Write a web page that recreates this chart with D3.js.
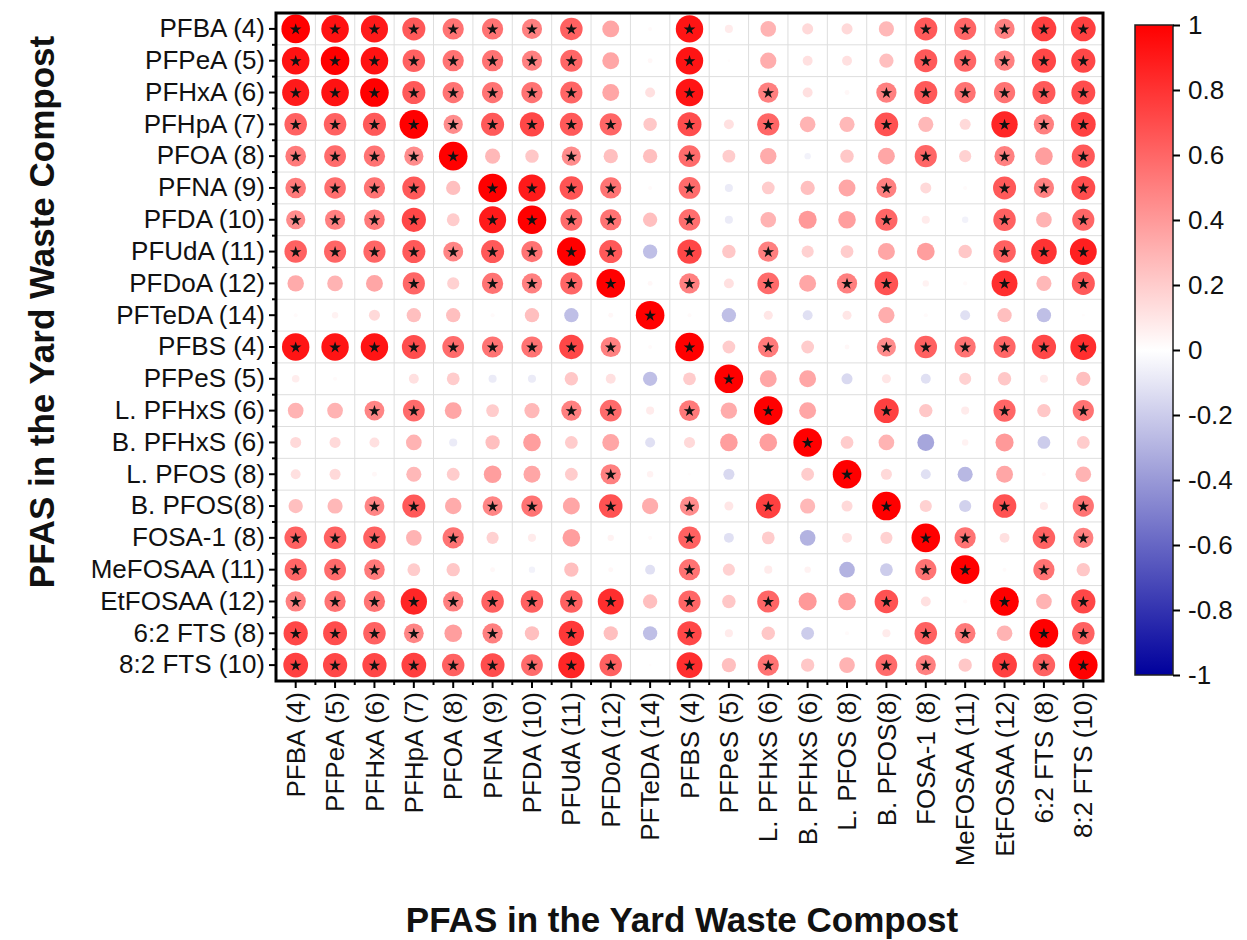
<!DOCTYPE html>
<html>
<head>
<meta charset="utf-8">
<script src="https://cdn.jsdelivr.net/npm/d3@7"></script>
<style>
  html, body { margin: 0; padding: 0; background: #fff; }
  svg { display: block; }
  text { font-family: "Liberation Sans", Arial, sans-serif; }
</style>
</head>
<body>
<svg id="chart" width="1247" height="940"></svg>
<script>
// ---------------- DATA ----------------
const labels = ["PFBA (4)", "PFPeA (5)", "PFHxA (6)", "PFHpA (7)", "PFOA (8)", "PFNA (9)",
  "PFDA (10)", "PFUdA (11)", "PFDoA (12)", "PFTeDA (14)", "PFBS (4)", "PFPeS (5)",
  "L. PFHxS (6)", "B. PFHxS (6)", "L. PFOS (8)", "B. PFOS(8)", "FOSA-1 (8)",
  "MeFOSAA (11)", "EtFOSAA (12)", "6:2 FTS (8)", "8:2 FTS (10)"];

// correlation coefficients, one row per compound (row order = labels)
const corr = [
  [1, .93, .9, .65, .55, .55, .5, .62, .35, .02, .92, .08, .3, .15, .15, .28, .65, .6, .5, .75, .75],
  [.93, 1, .93, .62, .55, .55, .5, .6, .35, .03, .92, .01, .32, .12, .12, .25, .65, .6, .5, .72, .72],
  [.9, .93, 1, .65, .55, .55, .55, .6, .35, .12, .92, 0, .5, .12, .03, .5, .65, .55, .55, .65, .7],
  [.62, .62, .65, 1, .45, .65, .72, .65, .6, .22, .7, .12, .6, .3, .28, .68, .28, .15, .85, .5, .75],
  [.52, .58, .55, .45, 1, .28, .22, .45, .25, .25, .58, .2, .33, -.05, .22, .35, .6, .18, .5, .38, .65],
  [.52, .57, .55, .65, .25, 1, .9, .67, .55, .02, .58, -.08, .2, .25, .35, .5, .15, .02, .65, .5, .7],
  [.45, .5, .52, .72, .2, .9, 1, .58, .55, .25, .57, -.08, .3, .4, .38, .6, .08, -.05, .62, .3, .6],
  [.62, .6, .6, .65, .48, .65, .55, 1, .65, -.25, .72, .22, .5, .18, .2, .35, .38, .22, .62, .8, .88],
  [.33, .3, .35, .6, .18, .55, .5, .6, 1, .03, .5, .12, .58, .35, .5, .68, .05, .02, .82, .28, .65],
  [.02, .05, .15, .25, .25, .02, .25, -.25, .03, 1, .02, -.25, .1, -.12, .1, .32, .02, -.12, .25, -.25, .01],
  [.92, .92, .92, .7, .58, .55, .55, .72, .5, .02, 1, .2, .52, .2, .03, .45, .62, .55, .6, .72, .82],
  [.07, .02, 0, .12, .2, -.08, -.08, .22, .12, -.25, .2, 1, .35, .35, -.15, .1, -.12, .18, .22, .08, .25],
  [.3, .3, .48, .58, .35, .2, .28, .5, .58, .08, .52, .33, 1, .35, 0, .75, .22, .08, .6, .22, .55],
  [.15, .15, .12, .3, -.08, .25, .38, .2, .35, -.12, .15, .38, .38, 1, .2, .3, -.35, .05, .4, -.2, .2],
  [.12, .15, .03, .28, .2, .38, .35, .2, .5, .05, .01, -.15, 0, .2, 1, .15, -.12, -.28, .35, .02, .3],
  [.25, .28, .48, .65, .33, .48, .55, .35, .68, .32, .45, .1, .75, .28, .15, 1, .18, -.18, .68, .08, .55],
  [.62, .62, .62, .3, .55, .18, .08, .38, .05, .02, .62, -.12, .2, -.3, .12, .18, 1, .55, .12, .62, .5],
  [.6, .58, .52, .2, .22, .03, -.05, .25, .03, -.12, .55, .18, .08, .05, -.3, -.2, .55, 1, .02, .55, .22],
  [.5, .55, .55, .85, .5, .62, .62, .62, .82, .25, .6, .22, .6, .4, .38, .68, .12, .02, 1, .3, .72],
  [.72, .7, .62, .48, .38, .5, .25, .78, .25, -.25, .72, .08, .22, -.2, .02, .08, .62, .52, .3, 1, .62],
  [.75, .72, .72, .75, .62, .7, .58, .85, .62, .01, .82, .25, .55, .22, .3, .58, .5, .22, .75, .62, 1]
];

// significance marks ("*" = significant) per row
const signif = [
  "********..*.....*****",
  "********..*.....*****",
  "********..*.*..******",
  "*********.*.*..*..***",
  "*****..*..*.....*.*.*",
  "****.****.*....*..***",
  "****.****.*....*..*.*",
  "*********.*.*.....***",
  "...*.****.*.*.**..*.*",
  ".........*...........",
  "*********.*.*..******",
  "...........*.........",
  "..**...**.*.*..*..*.*",
  ".............*.......",
  "........*.....*......",
  "..**.**.*.*.*..*..*.*",
  "***.*.....*.....**.**",
  "***.......*.....**.*.",
  "*********.*.*..*..*.*",
  "****.*.*..*.....**.**",
  "*********.*.*..**.***"
];

const colorbarTicks = [-1, -0.8, -0.6, -0.4, -0.2, 0, 0.2, 0.4, 0.6, 0.8, 1];
const xTitle = "PFAS in the Yard Waste Compost";
const yTitle = "PFAS in the Yard Waste Compost";

// ---------------- DRAWING ----------------
const svg = d3.select("#chart");
const L = 276, R = 1103, T = 13, B = 681;
const FONT = 26;

const x = d3.scaleBand().domain(labels).range([L, R]);
const y = d3.scaleBand().domain(labels).range([T, B]);
const color = d3.scaleLinear().domain([-1, 0, 1]).range(["#00009c", "#ffffff", "#ff0000"]);
const rMax = 14.3;
const rad = d3.scaleSqrt().domain([0, 1]).range([0, rMax]);

// grid
const grid = svg.append("g").attr("stroke", "#dedede").attr("stroke-width", 1);
labels.forEach((d, i) => {
  if (i === 0) return;
  grid.append("line").attr("x1", x(d)).attr("x2", x(d)).attr("y1", T).attr("y2", B);
  grid.append("line").attr("y1", y(d)).attr("y2", y(d)).attr("x1", L).attr("x2", R);
});

// cells
const cells = [];
corr.forEach((row, i) => row.forEach((v, j) => cells.push({ r: labels[i], c: labels[j], v, s: signif[i][j] === "*" })));

svg.append("g").selectAll("circle").data(cells).join("circle")
  .attr("cx", d => x(d.c) + x.bandwidth() / 2)
  .attr("cy", d => y(d.r) + y.bandwidth() / 2)
  .attr("r", d => rad(Math.abs(d.v)))
  .attr("fill", d => color(d.v));

const star = d3.symbol().type(d3.symbolStar).size(42);
svg.append("g").selectAll("path").data(cells.filter(d => d.s)).join("path")
  .attr("d", star)
  .attr("transform", d => `translate(${x(d.c) + x.bandwidth() / 2},${y(d.r) + y.bandwidth() / 2 + 0.5})`)
  .attr("fill", "#111");

// axes
const yAxis = svg.append("g").attr("transform", `translate(${L},0)`)
  .call(d3.axisLeft(y).tickSize(7).tickPadding(4));
const xAxis = svg.append("g").attr("transform", `translate(0,${B})`)
  .call(d3.axisBottom(x).tickSize(7).tickPadding(4));
[yAxis, xAxis].forEach(g => {
  g.select(".domain").remove();
  g.selectAll("line").attr("stroke", "#000").attr("stroke-width", 2);
  g.selectAll("text").attr("font-size", FONT).attr("fill", "#111");
});
xAxis.selectAll("text")
  .attr("transform", "rotate(-90)")
  .attr("text-anchor", "end")
  .attr("x", -11).attr("y", 0).attr("dy", "0.35em");

// minor ticks at band edges
const minor = svg.append("g").attr("stroke", "#000").attr("stroke-width", 2);
labels.forEach((d, i) => {
  const yy = y(d);
  const xx = x(d);
  if (i > 0) {
    minor.append("line").attr("x1", L - 4).attr("x2", L).attr("y1", yy).attr("y2", yy);
    minor.append("line").attr("y1", B).attr("y2", B + 4).attr("x1", xx).attr("x2", xx);
  }
});

// frame
svg.append("rect").attr("x", L).attr("y", T).attr("width", R - L).attr("height", B - T)
  .attr("fill", "none").attr("stroke", "#000").attr("stroke-width", 3);

// titles
svg.append("text").attr("x", 682).attr("y", 932).attr("text-anchor", "middle")
  .attr("font-size", 35).attr("font-weight", "bold").attr("fill", "#111").text(xTitle);
svg.append("text").attr("transform", "translate(54,312) rotate(-90)").attr("text-anchor", "middle")
  .attr("font-size", 35).attr("font-weight", "bold").attr("fill", "#111").text(yTitle);

// colorbar
const cbX = 1135, cbW = 38, cbT = 25, cbB = 675;
const cb = d3.scaleLinear().domain([-1, 1]).range([cbB, cbT]);
const defs = svg.append("defs");
const grad = defs.append("linearGradient").attr("id", "cbgrad")
  .attr("x1", 0).attr("x2", 0).attr("y1", 1).attr("y2", 0);
d3.range(-1, 1.0001, 0.1).forEach(v => {
  grad.append("stop").attr("offset", (v + 1) / 2).attr("stop-color", color(v));
});
svg.append("rect").attr("x", cbX).attr("y", cbT).attr("width", cbW).attr("height", cbB - cbT)
  .attr("fill", "url(#cbgrad)").attr("stroke", "#222").attr("stroke-width", 1.5);
const cbAxis = svg.append("g").attr("transform", `translate(${cbX + cbW},0)`)
  .call(d3.axisRight(cb).tickValues(colorbarTicks).tickSize(7).tickPadding(8)
    .tickFormat(d => String(+d.toFixed(1))));
cbAxis.select(".domain").remove();
cbAxis.selectAll("line").attr("stroke", "#000").attr("stroke-width", 2);
cbAxis.selectAll("text").attr("font-size", FONT).attr("fill", "#111");
</script>
</body>
</html>
